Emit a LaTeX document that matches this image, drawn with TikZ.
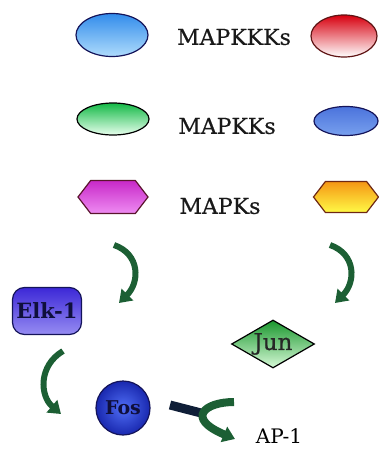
\documentclass[tikz,border=0pt]{standalone}
\usepackage{fontspec}
\setmainfont{DejaVu Serif}
\newfontfamily\lblfont[FakeBold=0.5]{DejaVu Serif}
\usetikzlibrary{shapes.geometric,shapes.symbols,arrows.meta}
\definecolor{navy}{RGB}{20,20,90}
\definecolor{txtnavy}{RGB}{15,15,60}
\definecolor{skytop}{RGB}{50,140,235}
\definecolor{skybot}{RGB}{175,220,252}
\definecolor{redtop}{RGB}{215,0,15}
\definecolor{redline}{RGB}{95,20,20}
\definecolor{grtop}{RGB}{20,185,70}
\definecolor{grbot}{RGB}{232,255,238}
\definecolor{bltop}{RGB}{75,115,220}
\definecolor{blbot}{RGB}{120,160,238}
\definecolor{magtop}{RGB}{200,40,200}
\definecolor{magbot}{RGB}{238,140,242}
\definecolor{magline}{RGB}{90,20,45}
\definecolor{yeltop}{RGB}{245,150,20}
\definecolor{yelbot}{RGB}{255,250,70}
\definecolor{yelline}{RGB}{110,40,20}
\definecolor{elktop}{RGB}{60,40,215}
\definecolor{elkbot}{RGB}{150,140,242}
\definecolor{fosin}{RGB}{80,110,245}
\definecolor{fosout}{RGB}{25,40,175}
\definecolor{juntop}{RGB}{25,150,45}
\definecolor{junbot}{RGB}{215,250,215}
\definecolor{arrgreen}{RGB}{28,95,52}
\definecolor{stubdark}{RGB}{15,30,55}
\tikzset{
  lbl/.style={font=\lblfont\fontsize{22}{26}\selectfont, text=black!90},
  oval/.style={ellipse, inner sep=0pt, line width=1.2pt},
  hexa/.style={signal, signal to=east and west, signal pointer angle=105, inner sep=0pt, line width=1.2pt},
  inner/.style={font=\fontsize{21}{24}\selectfont\bfseries, text=txtnavy},
  garrow/.style={draw=arrgreen, line width=6pt, -{Triangle[width=16pt,length=12pt]}},
  stub/.style={draw=stubdark, line width=9pt},
}
\begin{document}
\begin{tikzpicture}[x=1pt,y=-1pt]
\useasboundingbox (0,0) rectangle (379,450);
% row 1
\node[oval, draw=navy, top color=skytop, bottom color=skybot, minimum width=72pt, minimum height=43pt] (kkk1) at (112,35) {};
\node[lbl] (lkkk) at (234,37) {MAPKKKs};
\node[oval, draw=redline, top color=redtop, bottom color=white, minimum width=66pt, minimum height=42pt] (kkk2) at (344,36) {};
% row 2
\node[oval, draw=black, top color=grtop, bottom color=grbot, minimum width=72pt, minimum height=32pt] (kk1) at (113,119) {};
\node[lbl] (lkk) at (227,126) {MAPKKs};
\node[oval, draw=navy, top color=bltop, bottom color=blbot, minimum width=64pt, minimum height=29pt] (kk2) at (346,121) {};
% row 3
\node[hexa, draw=magline, top color=magtop, bottom color=magbot, minimum width=70pt, minimum height=33pt] (k1) at (113,197) {};
\node[lbl] (lk) at (220,206) {MAPKs};
\node[hexa, draw=yelline, top color=yeltop, bottom color=yelbot, minimum width=65pt, minimum height=31pt] (k2) at (346,197) {};
% targets
\node[rounded corners=12pt, draw=navy, line width=1.2pt, top color=elktop, bottom color=elkbot, minimum width=69pt, minimum height=47pt, inner sep=0pt, inner] (elk) at (47,311) {Elk-1};
\node[circle, draw=navy, line width=1.2pt, inner color=fosin, outer color=fosout, minimum size=54pt, inner sep=0pt, inner, font=\fontsize{19}{22}\selectfont\bfseries] (fos) at (123,408) {Fos};
\node[diamond, aspect=1.75, draw=black, line width=1.2pt, top color=juntop, bottom color=junbot, minimum width=83pt, minimum height=48pt, inner sep=0pt, font=\lblfont\fontsize{23}{26}\selectfont, text=black!85] (jun) at (273,344) {Jun};
\node[font=\fontsize{20}{22}\selectfont, inner sep=0pt] (ap1) at (279,436) {AP-1};
% arrows
\coordinate (a1s) at (114,245);
\coordinate (a1e) at (119,303);
\coordinate (a2s) at (63,351);
\coordinate (a2e) at (61,414);
\coordinate (a3s) at (330,245);
\coordinate (a3e) at (335,303);
\coordinate (st) at (170,405);
\coordinate (j) at (205,414);
\coordinate (a4s) at (234,402);
\coordinate (a4e) at (235,439);
\draw[garrow] (a1s) .. controls (140,254) and (140,282) .. (a1e);
\draw[garrow] (a2s) .. controls (38,366) and (40,396) .. (a2e);
\draw[garrow] (a3s) .. controls (356,254) and (356,282) .. (a3e);
\draw[stub] (st) -- (j);
\draw[garrow, line width=8pt] (a4s) .. controls (205,402) and (185,418) .. (a4e);
\end{tikzpicture}
\end{document}
